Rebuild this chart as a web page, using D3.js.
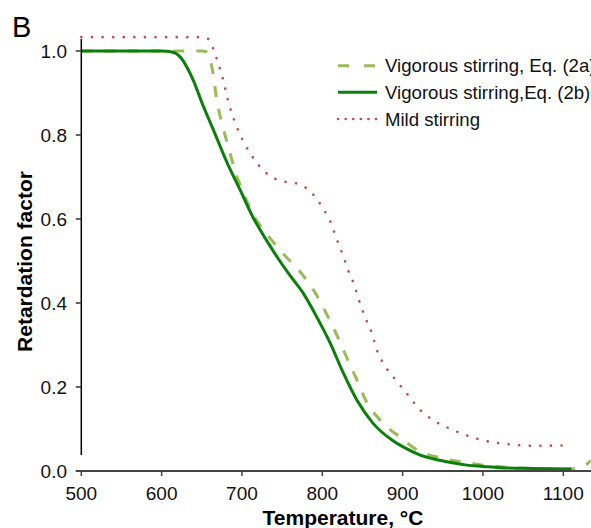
<!DOCTYPE html>
<html>
<head>
<meta charset="utf-8">
<script src="https://cdn.jsdelivr.net/npm/d3@7"></script>
<style>
  html, body { margin: 0; padding: 0; background: #fff; }
  svg { display: block; font-family: "Liberation Sans", Arial, Helvetica, sans-serif; }
</style>
</head>
<body>
<svg id="chart" width="591" height="528"></svg>
<script>
// Retardation factor vs. temperature for three stirring conditions
const xTicks = [500, 600, 700, 800, 900, 1000, 1100];
const yTicks = [0.0, 0.2, 0.4, 0.6, 0.8, 1.0];

// Vigorous stirring, Eq. (2a) — dashed light green
const eq2aT = [500, 650, 655, 658, 661, 664, 668.5, 675, 683, 691, 702, 714, 731, 751, 772, 789, 805, 818, 830, 843, 855, 872, 897, 918, 950, 980, 1000, 1030, 1060, 1110, 1118, 1125, 1134];
const eq2aR = [1.0, 1.0, 0.999, 0.993, 0.975, 0.947, 0.885, 0.828, 0.772, 0.717, 0.661, 0.61, 0.564, 0.518, 0.475, 0.431, 0.375, 0.324, 0.272, 0.217, 0.165, 0.121, 0.08, 0.05, 0.03, 0.02, 0.014, 0.009, 0.006, 0.005, 0.006, 0.01, 0.025];

// Vigorous stirring, Eq. (2b) — solid dark green
const eq2bT = [500, 600, 606, 612, 618, 623, 627, 633, 639, 652, 664, 681, 698, 714, 731, 745, 760, 776, 793, 810, 826, 843, 863, 888, 900, 922, 938, 960, 980, 1000, 1021, 1062, 1110];
const eq2bR = [1.0, 1.0, 0.9995, 0.998, 0.994, 0.986, 0.976, 0.956, 0.932, 0.868, 0.814, 0.736, 0.668, 0.603, 0.548, 0.506, 0.465, 0.424, 0.367, 0.304, 0.234, 0.169, 0.114, 0.072, 0.058, 0.038, 0.029, 0.02, 0.014, 0.011, 0.008, 0.006, 0.005];

// Mild stirring — dotted red
const mildT = [500, 652, 656, 660, 666, 672, 677, 683, 691, 702, 716, 737, 762, 770, 779, 791, 801, 810, 818, 826, 832, 839, 847, 853, 861, 868, 876, 888, 905, 922, 938, 961, 978, 994, 1013, 1030, 1048, 1067, 1103];
const mildR = [1.033, 1.033, 1.031, 1.025, 0.995, 0.962, 0.928, 0.879, 0.832, 0.784, 0.74, 0.70, 0.686, 0.684, 0.675, 0.653, 0.625, 0.594, 0.552, 0.512, 0.479, 0.447, 0.399, 0.367, 0.332, 0.288, 0.256, 0.225, 0.185, 0.145, 0.121, 0.099, 0.086, 0.076, 0.068, 0.064, 0.061, 0.06, 0.061];

const legendLabels = ["Vigorous stirring, Eq. (2a)", "Vigorous stirring,Eq. (2b)", "Mild stirring"];

const svg = d3.select("#chart");
const x = d3.scaleLinear().domain([500, 1100]).range([81.3, 563.3]);
const y = d3.scaleLinear().domain([0, 1]).range([471, 51]);

const zip = (ts, rs) => ts.map((t, i) => ({ t, r: rs[i] }));
const line = d3.line().x(d => x(d.t)).y(d => y(d.r)).curve(d3.curveMonotoneX);

const styles = [
  { data: zip(eq2aT, eq2aR), stroke: "#9bbb59", width: 3, dash: "11,12", cap: "butt", legendDash: "11,15" },
  { data: zip(eq2bT, eq2bR), stroke: "#0a800a", width: 3, dash: null, cap: "butt", legendDash: null },
  { data: zip(mildT, mildR), stroke: "#c0504d", width: 2.6, dash: "0.1,10.5", cap: "round", legendDash: "0.1,7.5" }
];

// Series: dashed first, solid on top, dotted last
const plot = svg.append("g");
styles.forEach(s => {
  plot.append("path")
    .datum(s.data)
    .attr("d", line)
    .attr("fill", "none")
    .attr("stroke", s.stroke)
    .attr("stroke-width", s.width)
    .attr("stroke-linecap", s.cap)
    .attr("stroke-dasharray", s.dash);
});

// Y axis
const yAxis = svg.append("g");
yAxis.append("line")
  .attr("x1", x(500)).attr("x2", x(500))
  .attr("y1", 39).attr("y2", 455)
  .attr("stroke", "#000").attr("stroke-width", 1.5);
yTicks.forEach(v => {
  yAxis.append("line")
    .attr("x1", x(500) - 5.5).attr("x2", x(500))
    .attr("y1", y(v)).attr("y2", y(v))
    .attr("stroke", "#333").attr("stroke-width", 1.5);
  yAxis.append("text")
    .attr("x", 67).attr("y", y(v)).attr("dy", "0.36em")
    .attr("text-anchor", "end")
    .attr("font-size", 19).attr("fill", "#111")
    .text(d3.format(".1f")(v));
});

// X axis
const xAxis = svg.append("g");
xAxis.append("line")
  .attr("x1", x(500) - 5.5).attr("x2", 591)
  .attr("y1", y(0)).attr("y2", y(0))
  .attr("stroke", "#444").attr("stroke-width", 2);
xTicks.forEach(t => {
  xAxis.append("line")
    .attr("x1", x(t)).attr("x2", x(t))
    .attr("y1", y(0)).attr("y2", y(0) + 5)
    .attr("stroke", "#444").attr("stroke-width", 1.5);
  xAxis.append("text")
    .attr("x", x(t)).attr("y", 499.5)
    .attr("text-anchor", "middle")
    .attr("font-size", 19).attr("fill", "#111")
    .text(t);
});

// Axis titles
svg.append("text")
  .attr("x", 343).attr("y", 525)
  .attr("text-anchor", "middle")
  .attr("font-size", 21).attr("font-weight", "bold").attr("fill", "#000")
  .text("Temperature, °C");
svg.append("text")
  .attr("transform", "translate(32,261.5) rotate(-90)")
  .attr("text-anchor", "middle")
  .attr("font-size", 21).attr("font-weight", "bold").attr("fill", "#000")
  .text("Retardation factor");

// Panel letter
svg.append("text")
  .attr("x", 12).attr("y", 37)
  .attr("font-size", 29).attr("fill", "#000")
  .text("B");

// Legend
const legend = svg.append("g");
const legendY = [65.7, 92.3, 119];
styles.forEach((s, i) => {
  legend.append("line")
    .attr("x1", 338).attr("x2", 377)
    .attr("y1", legendY[i]).attr("y2", legendY[i])
    .attr("stroke", s.stroke).attr("stroke-width", s.width)
    .attr("stroke-linecap", s.cap)
    .attr("stroke-dasharray", s.legendDash);
  legend.append("text")
    .attr("x", 385).attr("y", legendY[i]).attr("dy", "0.36em")
    .attr("font-size", 18.6).attr("fill", "#111")
    .text(legendLabels[i]);
});
</script>
</body>
</html>
